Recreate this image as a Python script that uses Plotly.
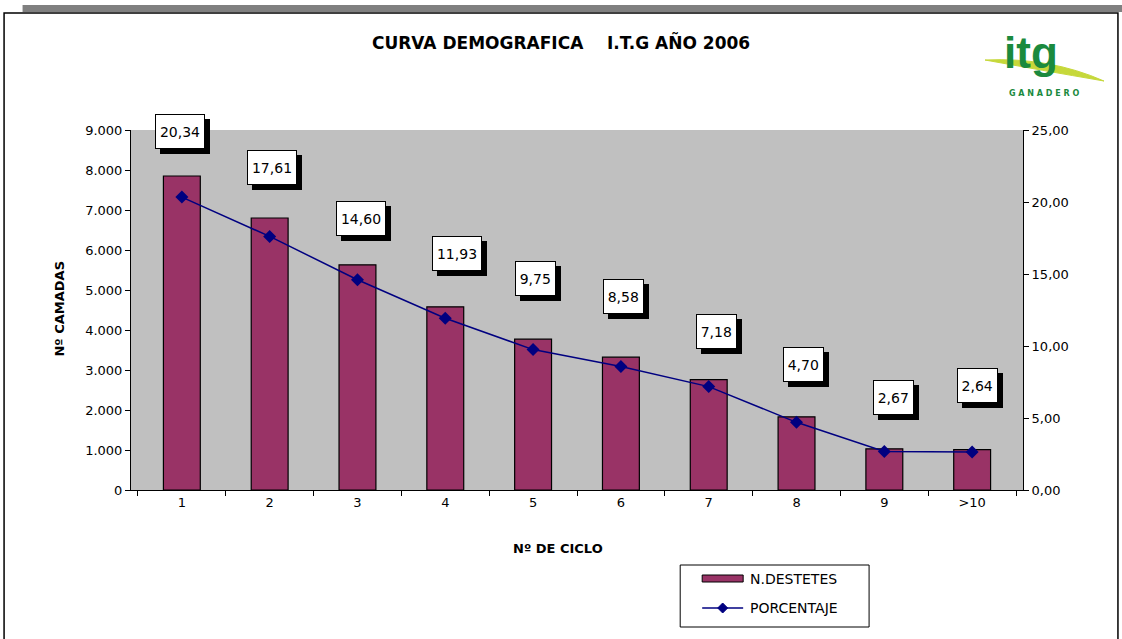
import plotly.graph_objects as go

# ---- data ----
categories = ["1", "2", "3", "4", "5", "6", "7", "8", "9", ">10"]
destetes = [7850, 6800, 5630, 4580, 3770, 3320, 2760, 1830, 1030, 1010]
porcentaje = [20.34, 17.61, 14.60, 11.93, 9.75, 8.58, 7.18, 4.70, 2.67, 2.64]

# label box offsets (pixels) relative to each point (style only)
label_dx = [-2, 2, 4, 12, 2, 3, 8, 7, 9, 5]
label_dy = [66, 69, 61, 65, 71, 70, 55, 58, 54, 66]

W, H = 1122, 639
PL, PR, PT, PB = 130.5, 1023, 130, 490  # plot area in figure px
L, T = PL, PT
R, B = W - PR, H - PB
PW, PH = PR - PL, PB - PT


def px(X):
    """screen x -> paper"""
    return (X - L) / PW


def py(Y):
    """screen y -> paper"""
    return (PB - Y) / PH


FONT = "DejaVu Sans, Liberation Sans, Arial, sans-serif"
MAROON = "#993366"
NAVY = "#000080"
GREEN = "#1b8a3e"

fig = go.Figure()
fig.add_trace(go.Bar(
    x=categories, y=destetes, name="N.DESTETES",
    marker=dict(color=MAROON, line=dict(color="black", width=1.2)),
    yaxis="y",
))
fig.add_trace(go.Scatter(
    x=categories, y=porcentaje, name="PORCENTAJE", mode="lines+markers",
    line=dict(color=NAVY, width=1.5),
    marker=dict(symbol="diamond", size=10, color=NAVY),
    yaxis="y2",
))

annotations = []
shapes = []


def text(X, Y, s, size=13, anchor="center", angle=0, color="black", family=FONT):
    annotations.append(dict(
        x=px(X), y=py(Y), xref="paper", yref="paper", showarrow=False,
        xanchor=anchor, yanchor="middle", text=s, textangle=angle,
        font=dict(family=family, size=size, color=color),
    ))


# data label boxes (shadow + white box) anchored on each point
for i, (v, dx, dy) in enumerate(zip(porcentaje, label_dx, label_dy)):
    txt = f"{v:.2f}".replace(".", ",")
    nd = sum(ch.isdigit() for ch in txt)
    w = 10 + 9.5 * nd
    h = 33
    # shadow
    annotations.append(dict(
        x=i, y=v, xref="x", yref="y2", text="&nbsp;", showarrow=False,
        xanchor="center", yanchor="middle",
        xshift=dx + 5, yshift=dy - 5,
        width=w, height=h, borderpad=0, borderwidth=1,
        bgcolor="black", bordercolor="black",
        font=dict(family=FONT, size=14, color="black"),
    ))
    # box with value
    annotations.append(dict(
        x=i, y=v, xref="x", yref="y2", text=txt, showarrow=False,
        xanchor="center", yanchor="middle",
        xshift=dx, yshift=dy,
        width=w, height=h, borderpad=0, borderwidth=1,
        bgcolor="white", bordercolor="black", valign="middle", align="center",
        font=dict(family=FONT, size=14, color="black"),
    ))

# titles
text(561, 42, "<b>CURVA DEMOGRAFICA    I.T.G AÑO 2006</b>", size=17)
text(58, 309, "<b>Nº CAMADAS</b>", size=13, angle=-90)
text(558, 548, "<b>Nº DE CICLO</b>", size=13)

# manual legend (box, swatches, texts)
shapes += [
    dict(type="rect", xref="paper", yref="paper", x0=px(680), x1=px(869),
         y0=py(627), y1=py(565), fillcolor="white", line=dict(color="black", width=1)),
    dict(type="rect", xref="paper", yref="paper", x0=px(702), x1=px(743),
         y0=py(582), y1=py(575), fillcolor=MAROON, line=dict(color="black", width=1)),
    dict(type="line", xref="paper", yref="paper", x0=px(702), x1=px(743),
         y0=py(608), y1=py(608), line=dict(color=NAVY, width=1.5)),
    dict(type="path", xref="paper", yref="paper",
         path=(f"M {px(722.5)} {py(603)} L {px(727.5)} {py(608)} "
               f"L {px(722.5)} {py(613)} L {px(717.5)} {py(608)} Z"),
         fillcolor=NAVY, line=dict(color=NAVY, width=1)),
]
text(748, 579, "N.DESTETES", size=14, anchor="left")
text(748, 608, "PORCENTAJE", size=14, anchor="left")

# logo
shapes.append(dict(
    type="path", xref="paper", yref="paper",
    path=(f"M {px(985)} {py(60)} Q {px(1050)} {py(57)} {px(1104)} {py(81)} "
          f"Q {px(1040)} {py(70)} {px(985)} {py(60)} Z"),
    fillcolor="#c6d83a", line=dict(color="#c6d83a", width=1), layer="below"))
text(1031, 52, "<b>itg</b>", size=44, color=GREEN, family="Liberation Sans, Arial, sans-serif")
text(1044, 94, "<b>G A N A D E R O</b>", size=8, color=GREEN)

# page frame
shapes += [
    dict(type="rect", xref="paper", yref="paper", x0=px(22), x1=px(1130),
         y0=py(12), y1=py(5), fillcolor="#808080", line=dict(width=0), layer="below"),
    dict(type="path", xref="paper", yref="paper",
         path=f"M {px(3.5)} {py(700)} L {px(3.5)} {py(13)} L {px(1118)} {py(13)} L {px(1118)} {py(700)}",
         line=dict(color="black", width=1.5), layer="below"),
]

fig.update_layout(
    width=W, height=H,
    margin=dict(l=L, r=R, t=T, b=B, autoexpand=False),
    paper_bgcolor="white", plot_bgcolor="#c0c0c0",
    separators=",.",
    font=dict(family=FONT, size=13, color="black"),
    bargap=0.58,
    showlegend=False,
    xaxis=dict(
        type="category", tickson="boundaries", ticks="outside", ticklen=5,
        tickcolor="black", showline=True, linecolor="black", linewidth=1,
        showgrid=False, tickfont=dict(family=FONT, size=13, color="black"),
    ),
    yaxis=dict(
        range=[0, 9000], dtick=1000, tickformat=",.0f", ticks="outside",
        ticklen=5, tickcolor="black", showline=True, linecolor="black",
        linewidth=1, showgrid=False, zeroline=False,
        tickfont=dict(family=FONT, size=13, color="black"),
    ),
    yaxis2=dict(
        range=[0, 25], dtick=5, tickformat=".2f", overlaying="y", side="right",
        ticks="outside", ticklen=5, tickcolor="black", showline=True,
        linecolor="black", linewidth=1, showgrid=False, zeroline=False,
        tickfont=dict(family=FONT, size=13, color="black"),
    ),
    annotations=annotations,
    shapes=shapes,
)

fig.write_html(
    "out.html",
    config={"displayModeBar": False},
    post_script="document.body.style.margin='0';document.body.style.overflow='hidden';",
)
